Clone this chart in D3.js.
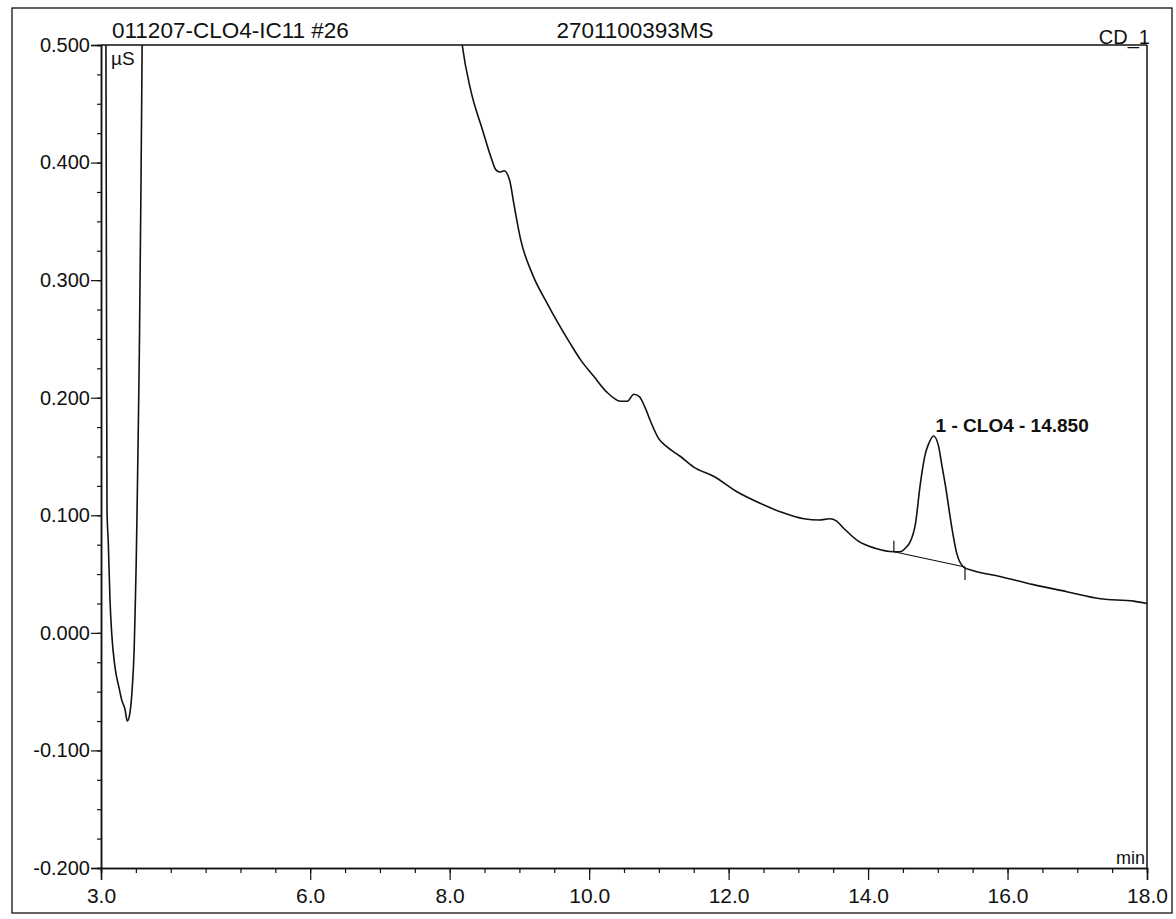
<!DOCTYPE html>
<html>
<head>
<meta charset="utf-8">
<script src="https://cdn.jsdelivr.net/npm/d3@7"></script>
<style>
  html, body { margin: 0; padding: 0; background: #fff; }
  svg { display: block; font-family: "Liberation Sans", Arial, sans-serif; }
</style>
</head>
<body>
<svg id="chart" width="1176" height="919"></svg>
<script>
// ---- data ----
const sampleName = "011207-CLO4-IC11 #26";
const programName = "2701100393MS";
const channelName = "CD_1";
const yUnit = "µS";
const xUnit = "min";

const xTickLabels = [3.0, 6.0, 8.0, 10.0, 12.0, 14.0, 16.0, 18.0];
const yTickLabels = [0.5, 0.4, 0.3, 0.2, 0.1, 0.0, -0.1, -0.2];

// retention time (min)
const times = [
  3.00, 3.07, 3.078, 3.086, 3.105, 3.129, 3.153, 3.20, 3.26, 3.297, 3.344, 3.377,
  3.415, 3.45, 3.475, 3.49, 3.505, 3.52, 3.535, 3.55, 3.57, 3.59, 3.65, 5.0, 7.0, 7.9, 8.05,
  8.18, 8.30, 8.47, 8.59, 8.66, 8.72, 8.78, 8.86, 8.92, 9.02, 9.18, 9.40, 9.73, 9.88,
  10.07, 10.25, 10.45, 10.55, 10.64, 10.72, 10.80, 10.88, 11.00, 11.10, 11.31, 11.50,
  11.79, 12.12, 12.46, 12.74, 13.08, 13.30, 13.45, 13.55, 13.65, 13.86, 14.10, 14.37,
  14.46, 14.55, 14.60, 14.68, 14.75, 14.82, 14.87, 14.94, 15.01, 15.06, 15.11, 15.20,
  15.27, 15.37, 15.50, 15.89, 16.37, 16.85, 17.33, 17.81, 18.00
];
// conductivity (µS)
const signal = [
  1.20, 0.52, 0.30, 0.105, 0.076, 0.028, 0.000, -0.029, -0.047, -0.057, -0.065, -0.075,
  -0.068, -0.045, -0.015, 0.020, 0.060, 0.115, 0.175, 0.240, 0.360, 0.500, 1.50, 2.00, 1.20, 0.70, 0.58,
  0.500, 0.462, 0.428, 0.405, 0.394, 0.392, 0.393, 0.385, 0.365, 0.334, 0.306, 0.280, 0.246, 0.232,
  0.218, 0.205, 0.197, 0.197, 0.203, 0.201, 0.192, 0.180, 0.165, 0.159, 0.150, 0.141,
  0.133, 0.120, 0.110, 0.103, 0.097, 0.096, 0.097, 0.095, 0.089, 0.078, 0.072, 0.069,
  0.069, 0.073, 0.077, 0.093, 0.127, 0.152, 0.161, 0.1675, 0.159, 0.142, 0.125, 0.090,
  0.068, 0.056, 0.053, 0.048, 0.041, 0.035, 0.029, 0.027, 0.025
];

// integrated peak
const peakLabel = "1 - CLO4 - 14.850";
const peakApex = [14.94, 0.1675];
const peakStart = [14.37, 0.069];
const peakEnd = [15.39, 0.056];

// ---- drawing ----
const svg = d3.select("#chart");
const pLeft = 101, pRight = 1147, pTop = 45, pBottom = 868;

const x = d3.scaleLinear().domain([3, 18]).range([pLeft, pRight]);
const y = d3.scaleLinear().domain([-0.2, 0.5]).range([pBottom, pTop]);

const ink = "#111";
const fmt1 = d => d3.format(".1f")(d).replace("\u2212", "-");
const fmt3 = d => d3.format(".3f")(d).replace("\u2212", "-");

// outer border
svg.append("rect")
  .attr("x", 12).attr("y", 8).attr("width", 1160).attr("height", 905)
  .attr("fill", "none").attr("stroke", ink).attr("stroke-width", 1.3);

// clip
svg.append("defs").append("clipPath").attr("id", "plotclip")
  .append("rect").attr("x", pLeft).attr("y", pTop).attr("width", pRight - pLeft).attr("height", pBottom - pTop);

// frame: top and right lines
svg.append("line").attr("x1", pLeft).attr("x2", pRight).attr("y1", pTop).attr("y2", pTop)
  .attr("stroke", ink).attr("stroke-width", 1.5);
svg.append("line").attr("x1", pRight).attr("x2", pRight).attr("y1", pTop).attr("y2", pBottom)
  .attr("stroke", ink).attr("stroke-width", 1.5);

// x axis
const xMinor = d3.range(3, 18.001, 0.5);
const xAxisMinor = d3.axisBottom(x).tickValues(xMinor).tickSize(5).tickFormat("");
const gxm = svg.append("g").attr("transform", `translate(0,${pBottom})`).call(xAxisMinor);
const xAxis = d3.axisBottom(x).tickValues(xTickLabels).tickSize(12).tickPadding(8)
  .tickFormat(fmt1);
const gx = svg.append("g").attr("transform", `translate(0,${pBottom})`).call(xAxis);
gx.selectAll("text").attr("font-size", 21).attr("fill", ink)
  .attr("font-family", "'Liberation Sans', Arial, sans-serif");

// y axis
const yMinor = d3.range(-0.2, 0.5001, 0.025);
const yAxisMinor = d3.axisLeft(y).tickValues(yMinor).tickSize(4).tickFormat("");
const gym = svg.append("g").attr("transform", `translate(${pLeft},0)`).call(yAxisMinor);
const yAxis = d3.axisLeft(y).tickValues(yTickLabels).tickSize(10).tickPadding(1)
  .tickFormat(fmt3);
const gy = svg.append("g").attr("transform", `translate(${pLeft},0)`).call(yAxis);
gy.selectAll("text").attr("font-size", 20).attr("fill", ink)
  .attr("font-family", "'Liberation Sans', Arial, sans-serif");

[gxm, gx, gym, gy].forEach(g => {
  g.selectAll("path.domain").attr("stroke", ink).attr("stroke-width", 1.5);
  g.selectAll(".tick line").attr("stroke", ink).attr("stroke-width", 1.2);
});

// header texts
svg.append("text").attr("x", 112).attr("y", 38).attr("font-size", 22.5).attr("fill", ink)
  .text(sampleName);
svg.append("text").attr("x", 635).attr("y", 38).attr("font-size", 22.5).attr("fill", ink)
  .attr("text-anchor", "middle").text(programName);
svg.append("text").attr("x", 1150).attr("y", 44).attr("font-size", 20).attr("fill", ink)
  .attr("text-anchor", "end").text(channelName);

// unit labels
svg.append("text").attr("x", 111).attr("y", 65).attr("font-size", 19).attr("fill", ink)
  .text(yUnit);
svg.append("text").attr("x", 1145).attr("y", 864).attr("font-size", 18).attr("fill", ink)
  .attr("text-anchor", "end").text(xUnit);

// trace
const pts = times.map((t, i) => [t, signal[i]]);
const line = d3.line().x(d => x(d[0])).y(d => y(d[1])).curve(d3.curveMonotoneX);
svg.append("path").datum(pts)
  .attr("clip-path", "url(#plotclip)")
  .attr("d", line)
  .attr("fill", "none").attr("stroke", ink).attr("stroke-width", 1.6)
  .attr("stroke-linejoin", "round");

// peak baseline and delimiters
svg.append("line")
  .attr("x1", x(peakStart[0])).attr("y1", y(peakStart[1]))
  .attr("x2", x(peakEnd[0])).attr("y2", y(peakEnd[1]))
  .attr("stroke", ink).attr("stroke-width", 1.2);
svg.append("line")
  .attr("x1", x(peakStart[0])).attr("x2", x(peakStart[0]))
  .attr("y1", y(peakStart[1])).attr("y2", y(peakStart[1]) - 11)
  .attr("stroke", ink).attr("stroke-width", 1.2);
svg.append("line")
  .attr("x1", x(peakEnd[0])).attr("x2", x(peakEnd[0]))
  .attr("y1", y(peakEnd[1])).attr("y2", y(peakEnd[1]) + 13)
  .attr("stroke", ink).attr("stroke-width", 1.2);

// peak label
svg.append("text")
  .attr("x", x(peakApex[0]) + 2).attr("y", y(peakApex[1]) - 4)
  .attr("font-size", 19).attr("font-weight", "bold").attr("fill", ink)
  .text(peakLabel);
</script>
</body>
</html>
